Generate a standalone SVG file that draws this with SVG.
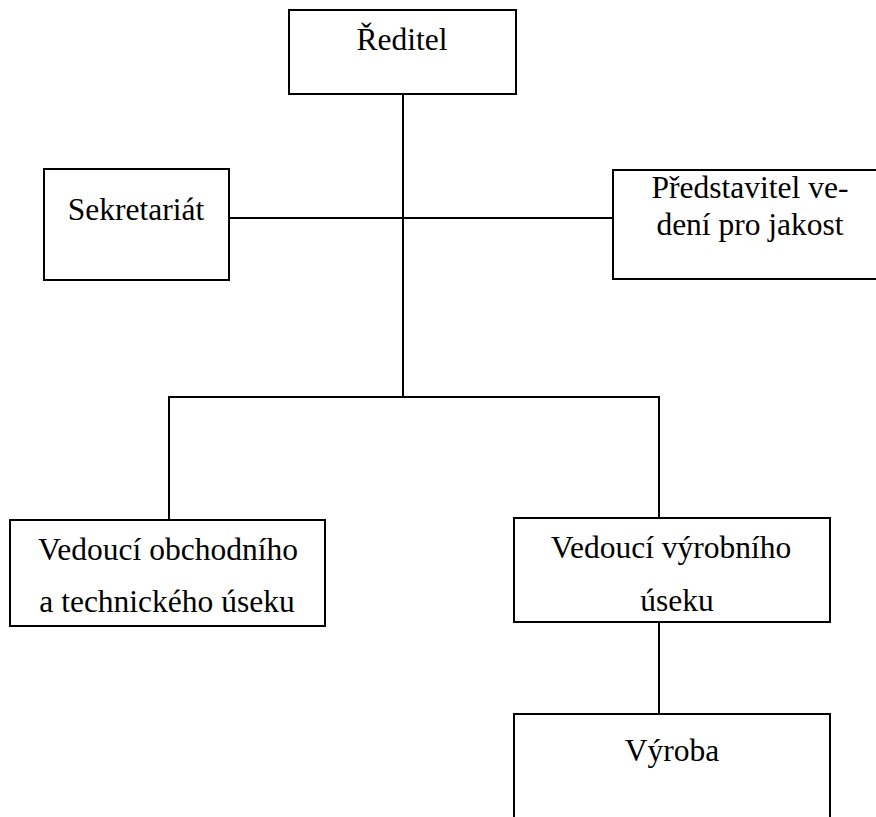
<svg xmlns="http://www.w3.org/2000/svg" width="876" height="817" viewBox="0 0 876 817">
  <style>
    .box { fill: #ffffff; stroke: #000000; stroke-width: 2; }
    .wire { fill: none; stroke: #000000; stroke-width: 2; }
    .lbl { font-size: 31.5px; fill: #000000; text-anchor: middle; }
  </style>
  <rect width="876" height="817" fill="#ffffff"/>

  <!-- connectors -->
  <g id="connectors">
    <line class="wire" x1="403" y1="94" x2="403" y2="397"/>
    <line class="wire" x1="229" y1="218" x2="613" y2="218"/>
    <polyline class="wire" points="169,520 169,397 659,397 659,518"/>
    <line class="wire" x1="659" y1="622" x2="659" y2="714"/>
  </g>

  <!-- all labels use the Times-metric serif face -->
  <g font-family="'Liberation Serif', 'Times New Roman', 'DejaVu Serif', serif">
    <g id="reditel">
      <rect class="box" x="289" y="10" width="227" height="84"/>
      <text class="lbl" x="402" y="50">Ředitel</text>
    </g>

    <g id="sekretariat">
      <rect class="box" x="44" y="169" width="185" height="111"/>
      <text class="lbl" x="136" y="220">Sekretariát</text>
    </g>

    <g id="predstavitel">
      <rect class="box" x="613" y="170" width="270" height="109"/>
      <text class="lbl" x="750" y="198">Představitel ve-</text>
      <text class="lbl" x="750" y="235">dení pro jakost</text>
    </g>

    <g id="vedouci-obchodni">
      <rect class="box" x="10" y="520" width="315" height="106"/>
      <text class="lbl" x="168" y="560">Vedoucí obchodního</text>
      <text class="lbl" x="167" y="612">a technického úseku</text>
    </g>

    <g id="vedouci-vyrobni">
      <rect class="box" x="514" y="518" width="316" height="104"/>
      <text class="lbl" x="671" y="558">Vedoucí výrobního</text>
      <text class="lbl" x="677" y="611">úseku</text>
    </g>

    <g id="vyroba">
      <rect class="box" x="514" y="714" width="316" height="120"/>
      <text class="lbl" x="672" y="761">Výroba</text>
    </g>
  </g>
</svg>
